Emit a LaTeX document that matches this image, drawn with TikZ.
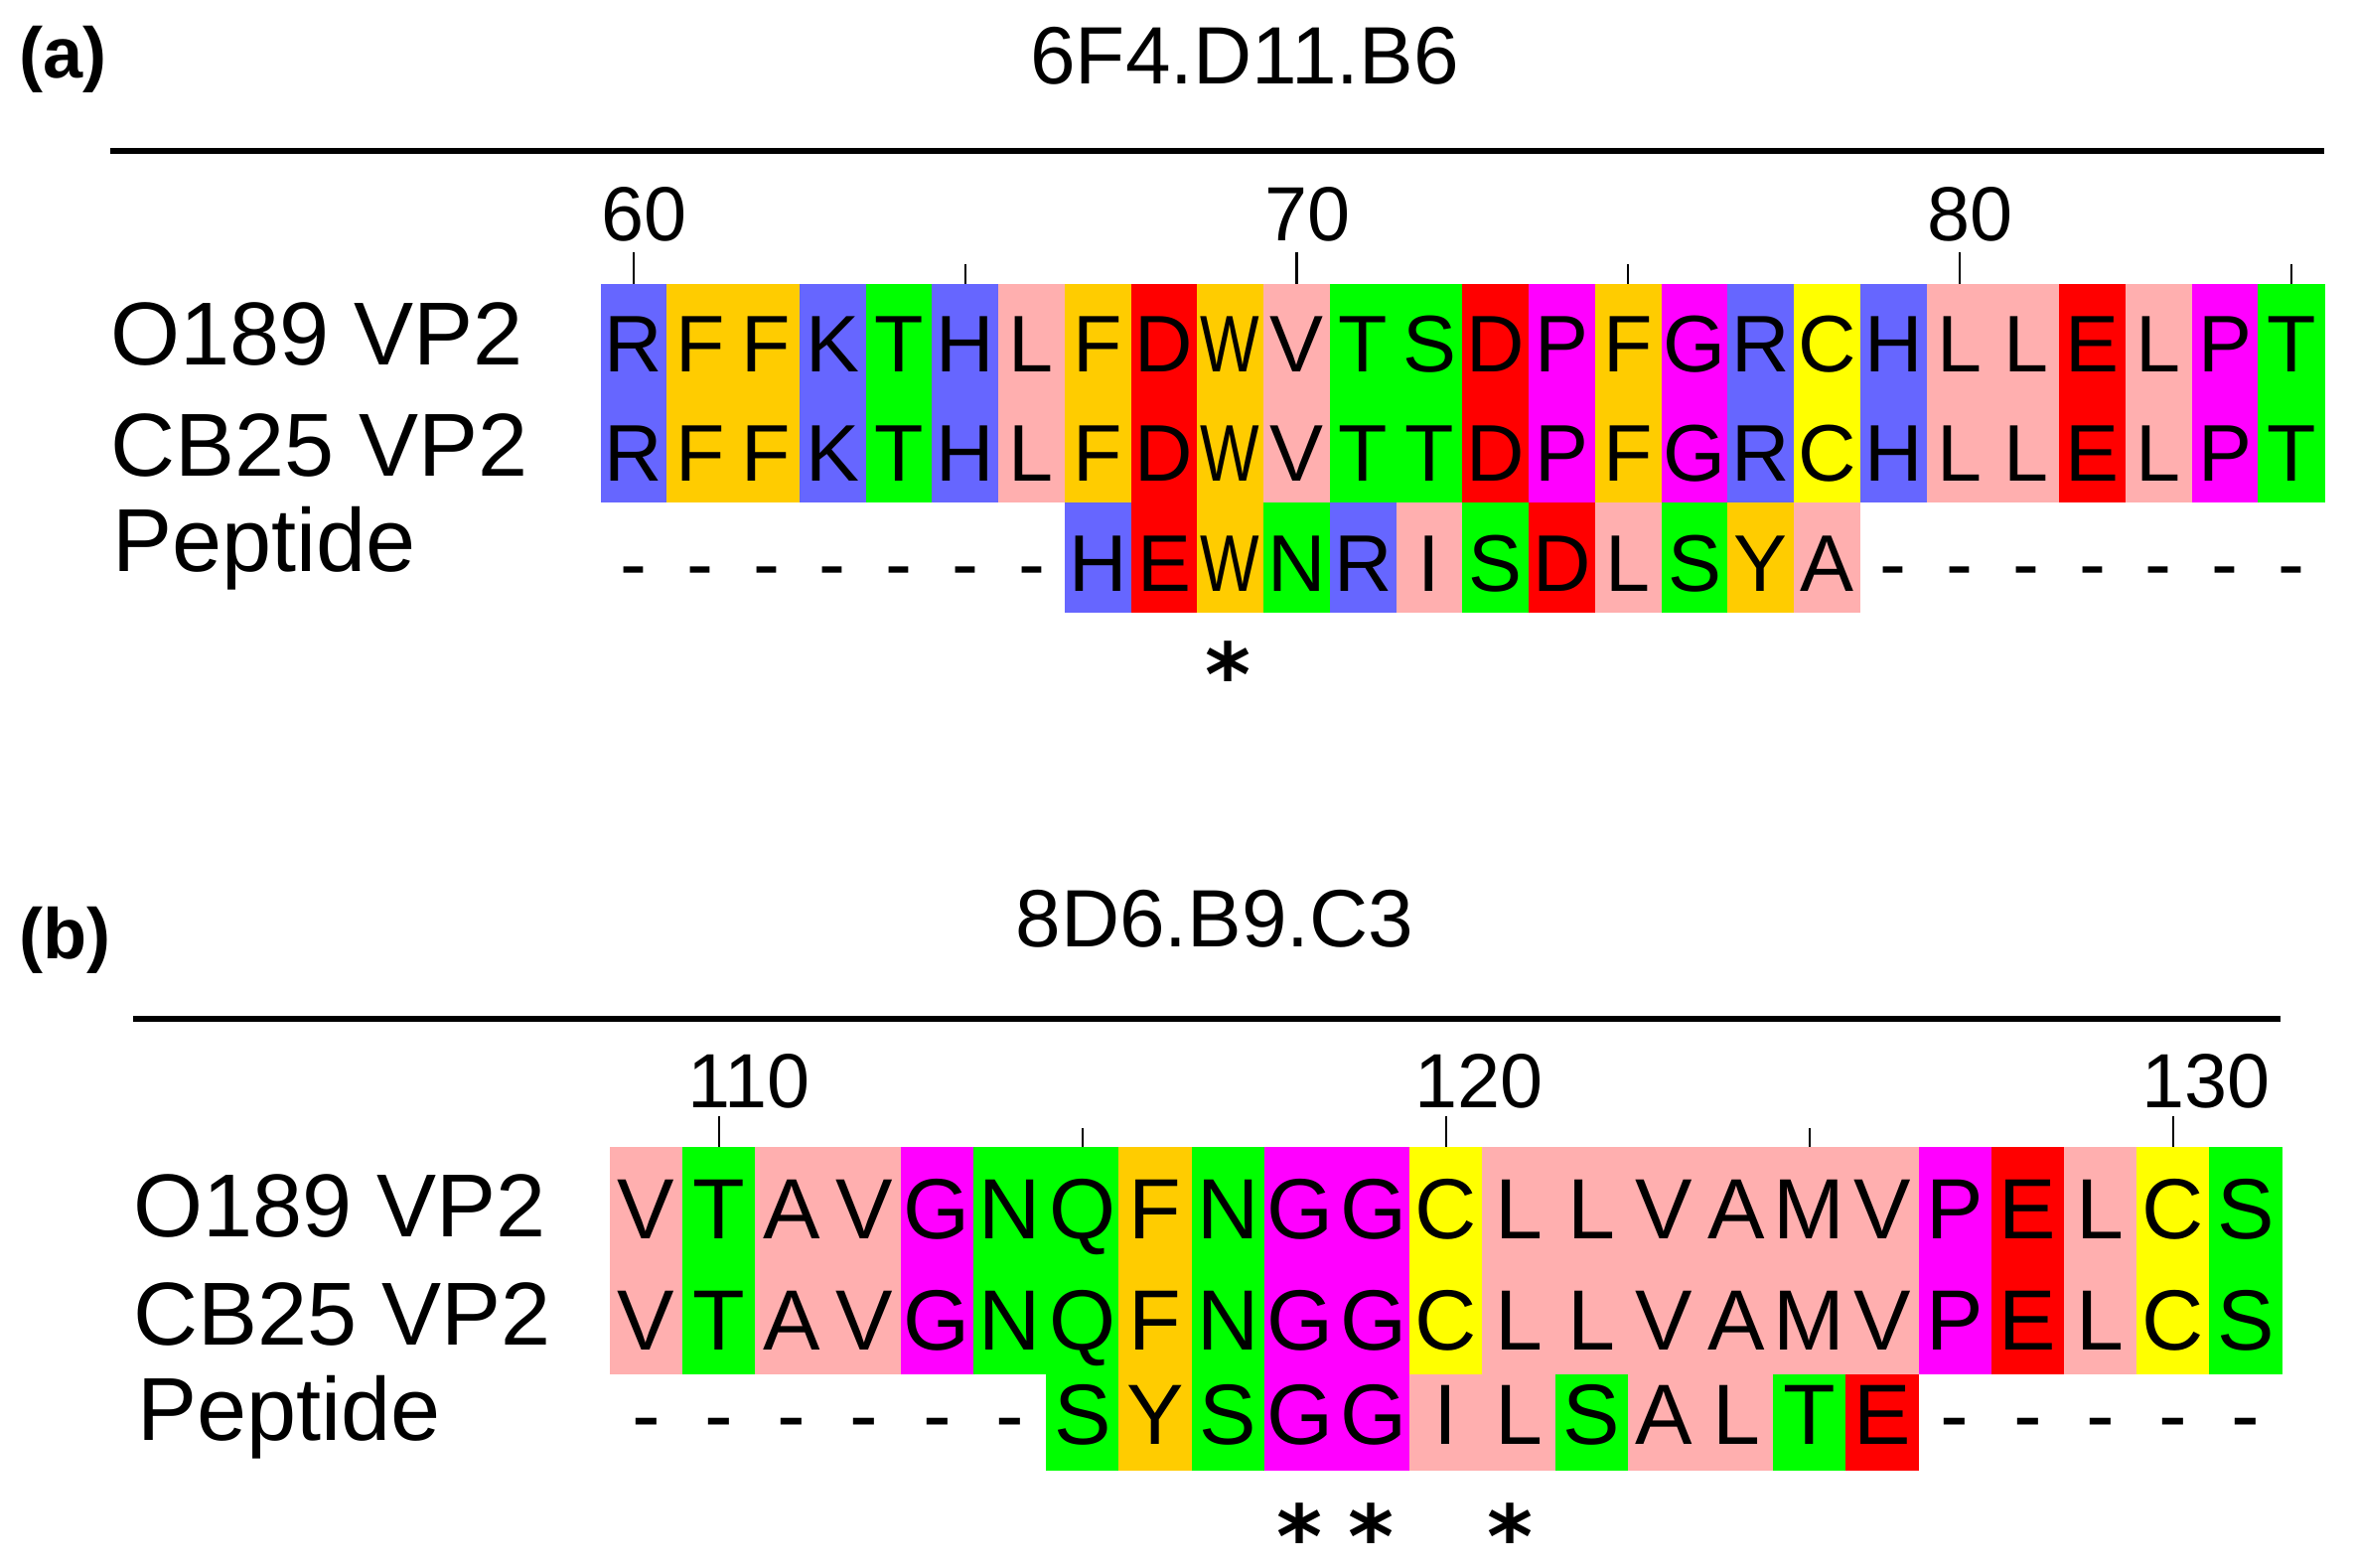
\documentclass[tikz,border=0pt]{standalone}
\usepackage{fontspec}
\setmainfont{Liberation Sans}
\newfontfamily\starfont{DejaVu Sans}
\definecolor{cB}{HTML}{6666FF}
\definecolor{cO}{HTML}{FFCC00}
\definecolor{cG}{HTML}{00FF00}
\definecolor{cP}{HTML}{FFAFAF}
\definecolor{cR}{HTML}{FF0000}
\definecolor{cM}{HTML}{FF00FF}
\definecolor{cY}{HTML}{FFFF00}
\newcommand\WW{\scalebox{0.78}[1]{W}}
% #1 prefix, #2 x0, #3 col width, #4 y top, #5 row height, #6 baseline, #7 style, #8 list
\newcommand\alnrow[8]{%
  \foreach \r/\c [count=\i] in {#8} {
    \fill[\c] ({#2+(\i-1)*#3},#4) rectangle +({#3+0.6},{#5+0.6});
    \node[#7] (#1-\i) at ({#2+(\i-0.5)*#3},#6) {\r};
  }%
}
\begin{document}
\begin{tikzpicture}[x=0.01cm,y=-0.01cm,
  resa/.style={anchor=base,inner sep=0pt,font=\fontsize{23}{23}\selectfont},
  resb/.style={anchor=base,inner sep=0pt,font=\fontsize{24.5}{25}\selectfont},
  lab/.style={anchor=base west,inner sep=0pt,font=\fontsize{25.6}{26}\selectfont},
  ttl/.style={anchor=base,inner sep=0pt,font=\fontsize{23.3}{24}\selectfont},
  num/.style={anchor=base west,inner sep=0pt,font=\fontsize{22}{22}\selectfont},
  pan/.style={anchor=base west,inner sep=0pt,font=\bfseries\fontsize{20.5}{21}\selectfont},
  star/.style={anchor=center,inner sep=0pt,font=\starfont\bfseries\fontsize{25}{25}\selectfont},
  tickline/.style={line width=0.6pt},
  ruleline/.style={line width=1.9pt}]
\useasboundingbox (0,0) rectangle (2371,1579);

% ---------------- panel (a) ----------------
\node[pan] (pa) at (19,79) {(a)};
\node[ttl] (ta) at (1253,85) {6F4.D11.B6};
\coordinate (ra1) at (111,152);
\coordinate (ra2) at (2340,152);
\draw[ruleline] (ra1) -- (ra2);

\alnrow{a1}{604.6}{66.75}{286}{110}{375}{resa}{R/cB,F/cO,F/cO,K/cB,T/cG,H/cB,L/cP,F/cO,D/cR,\WW/cO,V/cP,T/cG,S/cG,D/cR,P/cM,F/cO,G/cM,R/cB,C/cY,H/cB,L/cP,L/cP,E/cR,L/cP,P/cM,T/cG}
\alnrow{a2}{604.6}{66.75}{396}{110}{485}{resa}{R/cB,F/cO,F/cO,K/cB,T/cG,H/cB,L/cP,F/cO,D/cR,\WW/cO,V/cP,T/cG,T/cG,D/cR,P/cM,F/cO,G/cM,R/cB,C/cY,H/cB,L/cP,L/cP,E/cR,L/cP,P/cM,T/cG}
\alnrow{a3}{604.6}{66.75}{506}{110}{596}{resa}{-/white,-/white,-/white,-/white,-/white,-/white,-/white,H/cB,E/cR,\WW/cO,N/cG,R/cB,I/cP,S/cG,D/cR,L/cP,S/cG,Y/cO,A/cP,-/white,-/white,-/white,-/white,-/white,-/white,-/white}

\node[lab] (la1) at (111,368) {O189 VP2};
\node[lab] (la2) at (111,480) {CB25 VP2};
\node[lab] (la3) at (113,576) {Peptide};

% ticks and numbers (a)
\foreach \col/\lbl in {1/60,11/70,21/80} {
  \coordinate (tat\col) at ({604.6+(\col-0.5)*66.75},254);
  \coordinate (tab\col) at ({604.6+(\col-0.5)*66.75},286);
  \draw[tickline] (tat\col) -- (tab\col);
  \node[num] (na\col) at ({604.6+(\col-0.5)*66.75-33},243) {\lbl};
}
\foreach \col in {6,16,26} {
  \coordinate (tat\col) at ({604.6+(\col-0.5)*66.75},266);
  \coordinate (tab\col) at ({604.6+(\col-0.5)*66.75},286);
  \draw[tickline] (tat\col) -- (tab\col);
}
\node[star] (sa1) at (1236,666) {⁎};

% ---------------- panel (b) ----------------
\node[pan] (pb) at (19,965) {(b)};
\node[ttl] (tb) at (1223,953) {8D6.B9.C3};
\coordinate (rb1) at (134,1026);
\coordinate (rb2) at (2296,1026);
\draw[ruleline] (rb1) -- (rb2);

\alnrow{b1}{614}{73.2}{1155}{115}{1247}{resb}{V/cP,T/cG,A/cP,V/cP,G/cM,N/cG,Q/cG,F/cO,N/cG,G/cM,G/cM,C/cY,L/cP,L/cP,V/cP,A/cP,M/cP,V/cP,P/cM,E/cR,L/cP,C/cY,S/cG}
\alnrow{b2}{614}{73.2}{1270}{114}{1359}{resb}{V/cP,T/cG,A/cP,V/cP,G/cM,N/cG,Q/cG,F/cO,N/cG,G/cM,G/cM,C/cY,L/cP,L/cP,V/cP,A/cP,M/cP,V/cP,P/cM,E/cR,L/cP,C/cY,S/cG}
\alnrow{b3}{614}{73.2}{1384}{96}{1454}{resb}{-/white,-/white,-/white,-/white,-/white,-/white,S/cG,Y/cO,S/cG,G/cM,G/cM,I/cP,L/cP,S/cG,A/cP,L/cP,T/cG,E/cR,-/white,-/white,-/white,-/white,-/white}

\node[lab] (lb1) at (134,1245) {O189 VP2};
\node[lab] (lb2) at (134,1354) {CB25 VP2};
\node[lab] (lb3) at (138,1450) {Peptide};

\foreach \col/\lbl in {2/110,12/120,22/130} {
  \coordinate (tbt\col) at ({614+(\col-0.5)*73.2},1124);
  \coordinate (tbb\col) at ({614+(\col-0.5)*73.2},1155);
  \draw[tickline] (tbt\col) -- (tbb\col);
  \node[num] (nb\col) at ({614+(\col-0.5)*73.2-32},1115) {\lbl};
}
\foreach \col in {7,17} {
  \coordinate (tbt\col) at ({614+(\col-0.5)*73.2},1136);
  \coordinate (tbb\col) at ({614+(\col-0.5)*73.2},1155);
  \draw[tickline] (tbt\col) -- (tbb\col);
}
\node[star] (sb1) at (1308,1534) {⁎};
\node[star] (sb2) at (1380,1534) {⁎};
\node[star] (sb3) at (1520,1534) {⁎};
\end{tikzpicture}
\end{document}
